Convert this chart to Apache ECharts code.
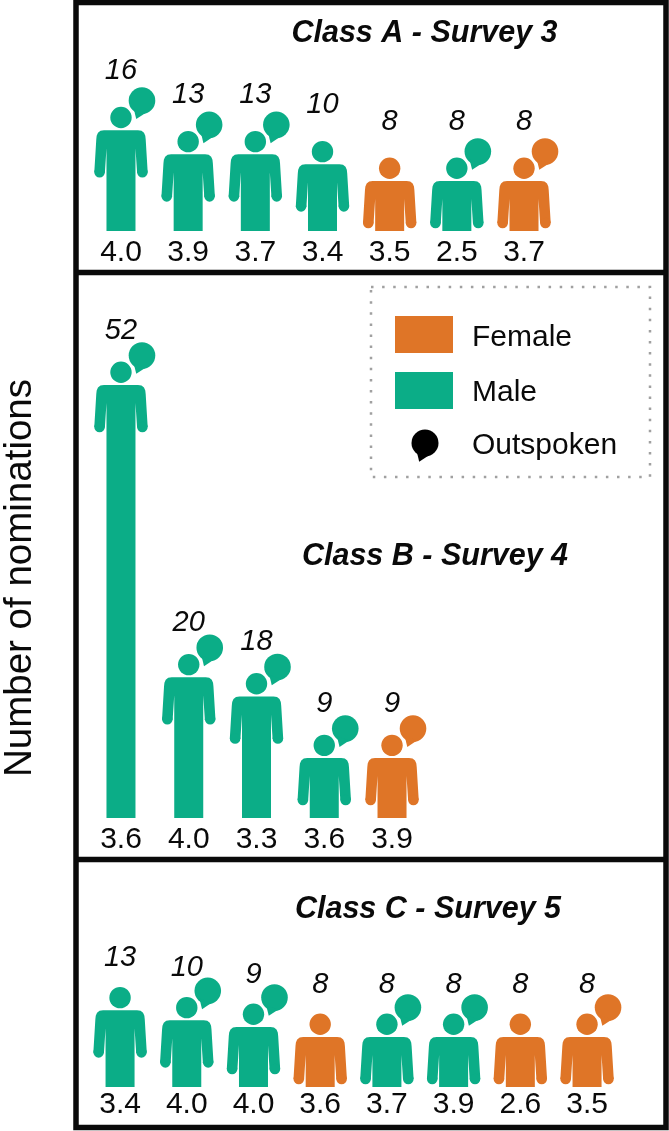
<!DOCTYPE html>
<html>
<head>
<meta charset="utf-8">
<style>
  html, body { margin: 0; padding: 0; background: #fff; }
  #main { width: 669px; height: 1131px; }
</style>
</head>
<body>
<div id="main"></div>
<script src="https://cdn.jsdelivr.net/npm/echarts@6/dist/echarts.min.js"></script>
<script>
// nominations printed above each figure, rating printed below it
const countsA = [16, 13, 13, 10, 8, 8, 8];
const ratingsA = ['4.0', '3.9', '3.7', '3.4', '3.5', '2.5', '3.7'];
const gendersA = ['M', 'M', 'M', 'M', 'F', 'M', 'F'];
const outspokenA = [1, 1, 1, 0, 0, 1, 1];

const countsB = [52, 20, 18, 9, 9];
const ratingsB = ['3.6', '4.0', '3.3', '3.6', '3.9'];
const gendersB = ['M', 'M', 'M', 'M', 'F'];
const outspokenB = [1, 1, 1, 1, 1];

const countsC = [13, 10, 9, 8, 8, 8, 8, 8];
const ratingsC = ['3.4', '4.0', '4.0', '3.6', '3.7', '3.9', '2.6', '3.5'];
const gendersC = ['M', 'M', 'M', 'F', 'M', 'M', 'F', 'F'];
const outspokenC = [0, 1, 1, 0, 1, 1, 0, 1];

// the figures are not drawn in proportion to the printed counts,
// so their drawn height is read off the picture separately, in axis units
const drawnA = [12.1, 9.2, 9.2, 8, 6, 6, 6];
const drawnB = [52, 16.9, 14.6, 7.2, 7.2];
const drawnC = [9.2, 8, 7.2, 6, 6, 6, 6, 6];

const GREEN = '#0bad87';
const ORANGE = '#df7527';
const INK = '#0a0a0a';
const FONT = '"Liberation Sans", Arial, sans-serif';

function bubble(cx, cy, r, color) {
  return [
    { type: 'circle', shape: { cx: cx, cy: cy, r: r }, style: { fill: color } },
    {
      type: 'polygon',
      shape: { points: [[cx - r * 0.62, cy + r * 0.6], [cx - r * 0.43, cy + r * 1.38], [cx + r * 0.3, cy + r * 0.9]] },
      style: { fill: color }
    }
  ];
}

function person(x, top, bottom, color) {
  const side = [
    [17, top], [20.5, top + 0.5], [23, top + 2.5], [24.3, top + 5.5], [24.7, top + 9],
    [26.7, top + 42], [16.1, top + 42.5], [14.5, top + 18], [14.5, bottom]
  ];
  const points = side.map(p => [x + p[0], p[1]])
    .concat(side.slice().reverse().map(p => [x - p[0], p[1]]));
  return [
    { type: 'polygon', shape: { points: points }, style: { fill: color } },
    { type: 'circle', shape: { cx: x + 21.4, cy: top + 42, r: 5.3 }, style: { fill: color } },
    { type: 'circle', shape: { cx: x - 21.4, cy: top + 42, r: 5.3 }, style: { fill: color } },
    { type: 'circle', shape: { cx: x, cy: top - 12.7, r: 10.7 }, style: { fill: color } }
  ];
}

function makeSeries(index, counts, drawn, genders, outspoken, labelGap) {
  return {
    type: 'custom',
    xAxisIndex: index,
    yAxisIndex: index,
    encode: { x: 0, y: 1 },
    data: drawn.map((v, i) => [i, v]),
    renderItem: function (params, api) {
      const i = params.dataIndex;
      const top = api.coord([i, api.value(1)]);
      const base = api.coord([i, 0]);
      const color = genders[i] === 'F' ? ORANGE : GREEN;
      let children = person(top[0], top[1], base[1], color);
      if (outspoken[i]) {
        children = children.concat(bubble(top[0] + 21, top[1] - 29.5, 13.3, color));
      }
      children.push({
        type: 'text',
        style: {
          x: top[0],
          y: top[1] - labelGap,
          text: String(counts[i]),
          align: 'center',
          verticalAlign: 'middle',
          fill: INK,
          font: 'italic 29px ' + FONT
        }
      });
      return { type: 'group', children: children };
    }
  };
}

function makeXAxis(index, ratings, margin) {
  return {
    type: 'category',
    gridIndex: index,
    data: ratings,
    axisLine: { show: false },
    axisTick: { show: false },
    axisLabel: { interval: 0, margin: margin, color: INK, fontSize: 30, fontFamily: FONT }
  };
}

function makeYAxis(index, max) {
  return { type: 'value', gridIndex: index, min: 0, max: max, show: false };
}

function makeTitle(text, x, y) {
  return {
    text: text,
    left: x,
    top: y,
    textAlign: 'center',
    textStyle: { color: INK, fontSize: 30.5, fontWeight: 'bold', fontStyle: 'italic', fontFamily: FONT }
  };
}

function legendRow(y, label) {
  return {
    type: 'text',
    style: { x: 472, y: y, text: label, verticalAlign: 'middle', fill: INK, font: '30px ' + FONT }
  };
}

const chart = echarts.init(document.getElementById('main'));
chart.setOption({
  animation: false,
  backgroundColor: '#fff',
  title: [
    makeTitle('Class A - Survey 3', 419.5, 14),
    makeTitle('Class B - Survey 4', 430, 537),
    makeTitle('Class C - Survey 5', 423, 890)
  ],
  grid: [
    { left: 87.4, top: 106, width: 470.2, height: 125 },
    { left: 87.1, top: 385, width: 338.8, height: 433 },
    { left: 86.7, top: 962, width: 533.7, height: 125 }
  ],
  xAxis: [makeXAxis(0, ratingsA, 7), makeXAxis(1, ratingsB, 7), makeXAxis(2, ratingsC, 3)],
  yAxis: [makeYAxis(0, 15), makeYAxis(1, 52), makeYAxis(2, 15)],
  series: [
    makeSeries(0, countsA, drawnA, gendersA, outspokenA, 59),
    makeSeries(1, countsB, drawnB, gendersB, outspokenB, 54),
    makeSeries(2, countsC, drawnC, gendersC, outspokenC, 52)
  ],
  graphic: [
    // panel frames
    { type: 'rect', shape: { x: 76, y: 2.5, width: 590, height: 1125 }, style: { fill: 'none', stroke: INK, lineWidth: 5.5 } },
    { type: 'line', shape: { x1: 76, y1: 272.5, x2: 666, y2: 272.5 }, style: { stroke: INK, lineWidth: 5.5 } },
    { type: 'line', shape: { x1: 76, y1: 859.5, x2: 666, y2: 859.5 }, style: { stroke: INK, lineWidth: 5.5 } },
    // axis title
    {
      type: 'text',
      x: 20,
      y: 578,
      rotation: Math.PI / 2,
      style: { text: 'Number of nominations', align: 'center', verticalAlign: 'middle', fill: INK, font: '38.5px ' + FONT }
    },
    // legend
    { type: 'rect', shape: { x: 371, y: 287, width: 279, height: 190 }, style: { fill: 'none', stroke: '#a0a0a0', lineWidth: 2.5, lineDash: [2.5, 8.6] } },
    { type: 'rect', shape: { x: 395, y: 316, width: 58, height: 37 }, style: { fill: ORANGE } },
    { type: 'rect', shape: { x: 395, y: 372, width: 58, height: 37 }, style: { fill: GREEN } },
    { type: 'group', children: bubble(425, 443, 13.5, '#000') },
    legendRow(338, 'Female'),
    legendRow(393, 'Male'),
    legendRow(446, 'Outspoken')
  ]
});
</script>
</body>
</html>
